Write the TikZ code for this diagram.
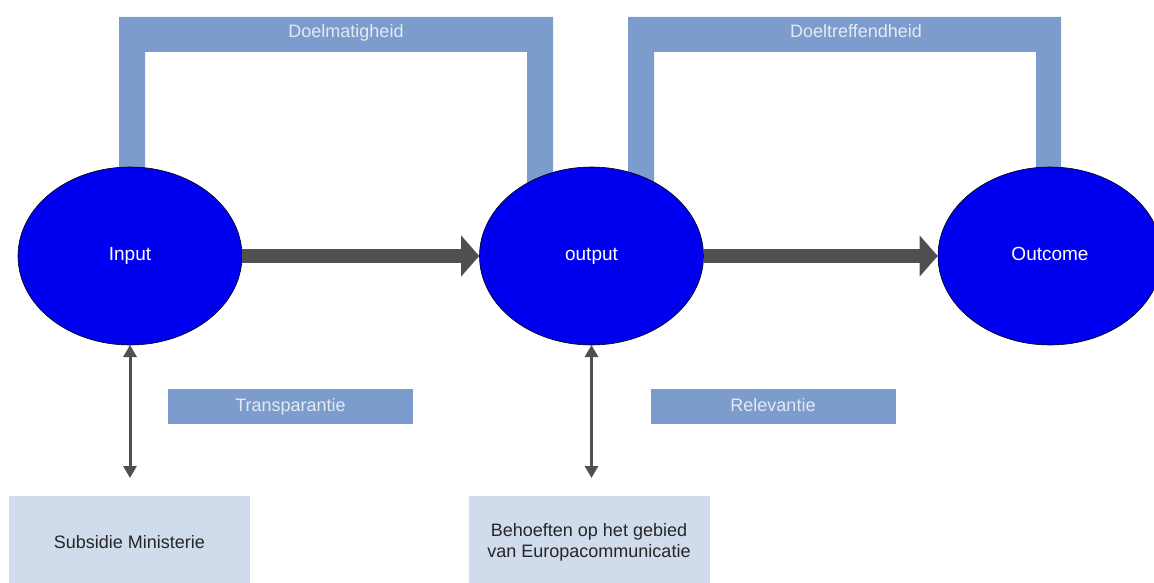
\documentclass[tikz,border=0pt]{standalone}
\usepackage{fontspec}
\setmainfont{Liberation Sans}
\usetikzlibrary{shapes.geometric,arrows.meta}
\definecolor{barblue}{HTML}{7B9CCC}
\definecolor{lightbox}{HTML}{D0DCEC}
\definecolor{arrowgray}{HTML}{505050}
\definecolor{ballblue}{HTML}{0000F0}
\definecolor{bartext}{HTML}{E4EAF2}
\tikzset{
  ball/.style={ellipse, draw=black, line width=0.6pt, fill=ballblue, text=white, minimum width=224pt, minimum height=178pt, inner sep=0pt, text height=13pt, text depth=4pt, font=\fontsize{19}{22}\selectfont},
  barlabel/.style={text=bartext, font=\fontsize{18}{21}\selectfont, inner sep=0pt, text height=13pt, text depth=4pt},
  bar/.style={fill=barblue, draw=none},
  labelbox/.style={fill=barblue, draw=none, minimum width=245pt, minimum height=35pt, inner sep=0pt, text height=13pt, text depth=4pt, text=bartext, font=\fontsize{18}{21}\selectfont},
  srcbox/.style={fill=lightbox, draw=none, minimum width=241pt, minimum height=92pt, inner sep=0pt, align=center, text=black!85, font=\fontsize{18}{21}\selectfont},
  flow/.style={draw=arrowgray, line width=14pt, -{Triangle[width=40pt,length=18pt]}},
  link/.style={draw=arrowgray, line width=3pt, {Triangle[width=13pt,length=12pt]}-{Triangle[width=13pt,length=12pt]}}
}
\begin{document}
\begin{tikzpicture}[x=1pt,y=-1pt]
\useasboundingbox (0,0) rectangle (1154,583);
\clip (0,0) rectangle (1154,583);
% top brackets
\fill[bar] (119,210) -- (119,17) -- (553,17) -- (553,210) -- (527,210) -- (527,52) -- (145,52) -- (145,210) -- cycle;
\fill[bar] (628,210) -- (628,17) -- (1061,17) -- (1061,210) -- (1036,210) -- (1036,52) -- (654,52) -- (654,210) -- cycle;
\node[barlabel] (doelm) at (346,33) {Doelmatigheid};
\node[barlabel] (doelt) at (856,33) {Doeltreffendheid};
% ellipses
\node[ball] (in) at (130,256) {Input};
\node[ball] (out) at (591.5,256) {output};
\node[ball] (oc) at (1050,256) {Outcome};
% flows
\draw[flow] (in.east) -- (out.west);
\draw[flow] (out.east) -- (oc.west);
% label boxes
\node[labelbox] (tr) at (290.5,406.5) {Transparantie};
\node[labelbox] (rel) at (773,406.5) {Relevantie};
% source boxes
\node[srcbox] (sub) at (129.5,542) {Subsidie Ministerie};
\node[srcbox] (beh) at (589,542) {Behoeften op het gebied\\van Europacommunicatie};
% vertical links
\draw[link] (130,345) -- (130,478);
\draw[link] (591.5,345) -- (591.5,478);
\end{tikzpicture}
\end{document}
